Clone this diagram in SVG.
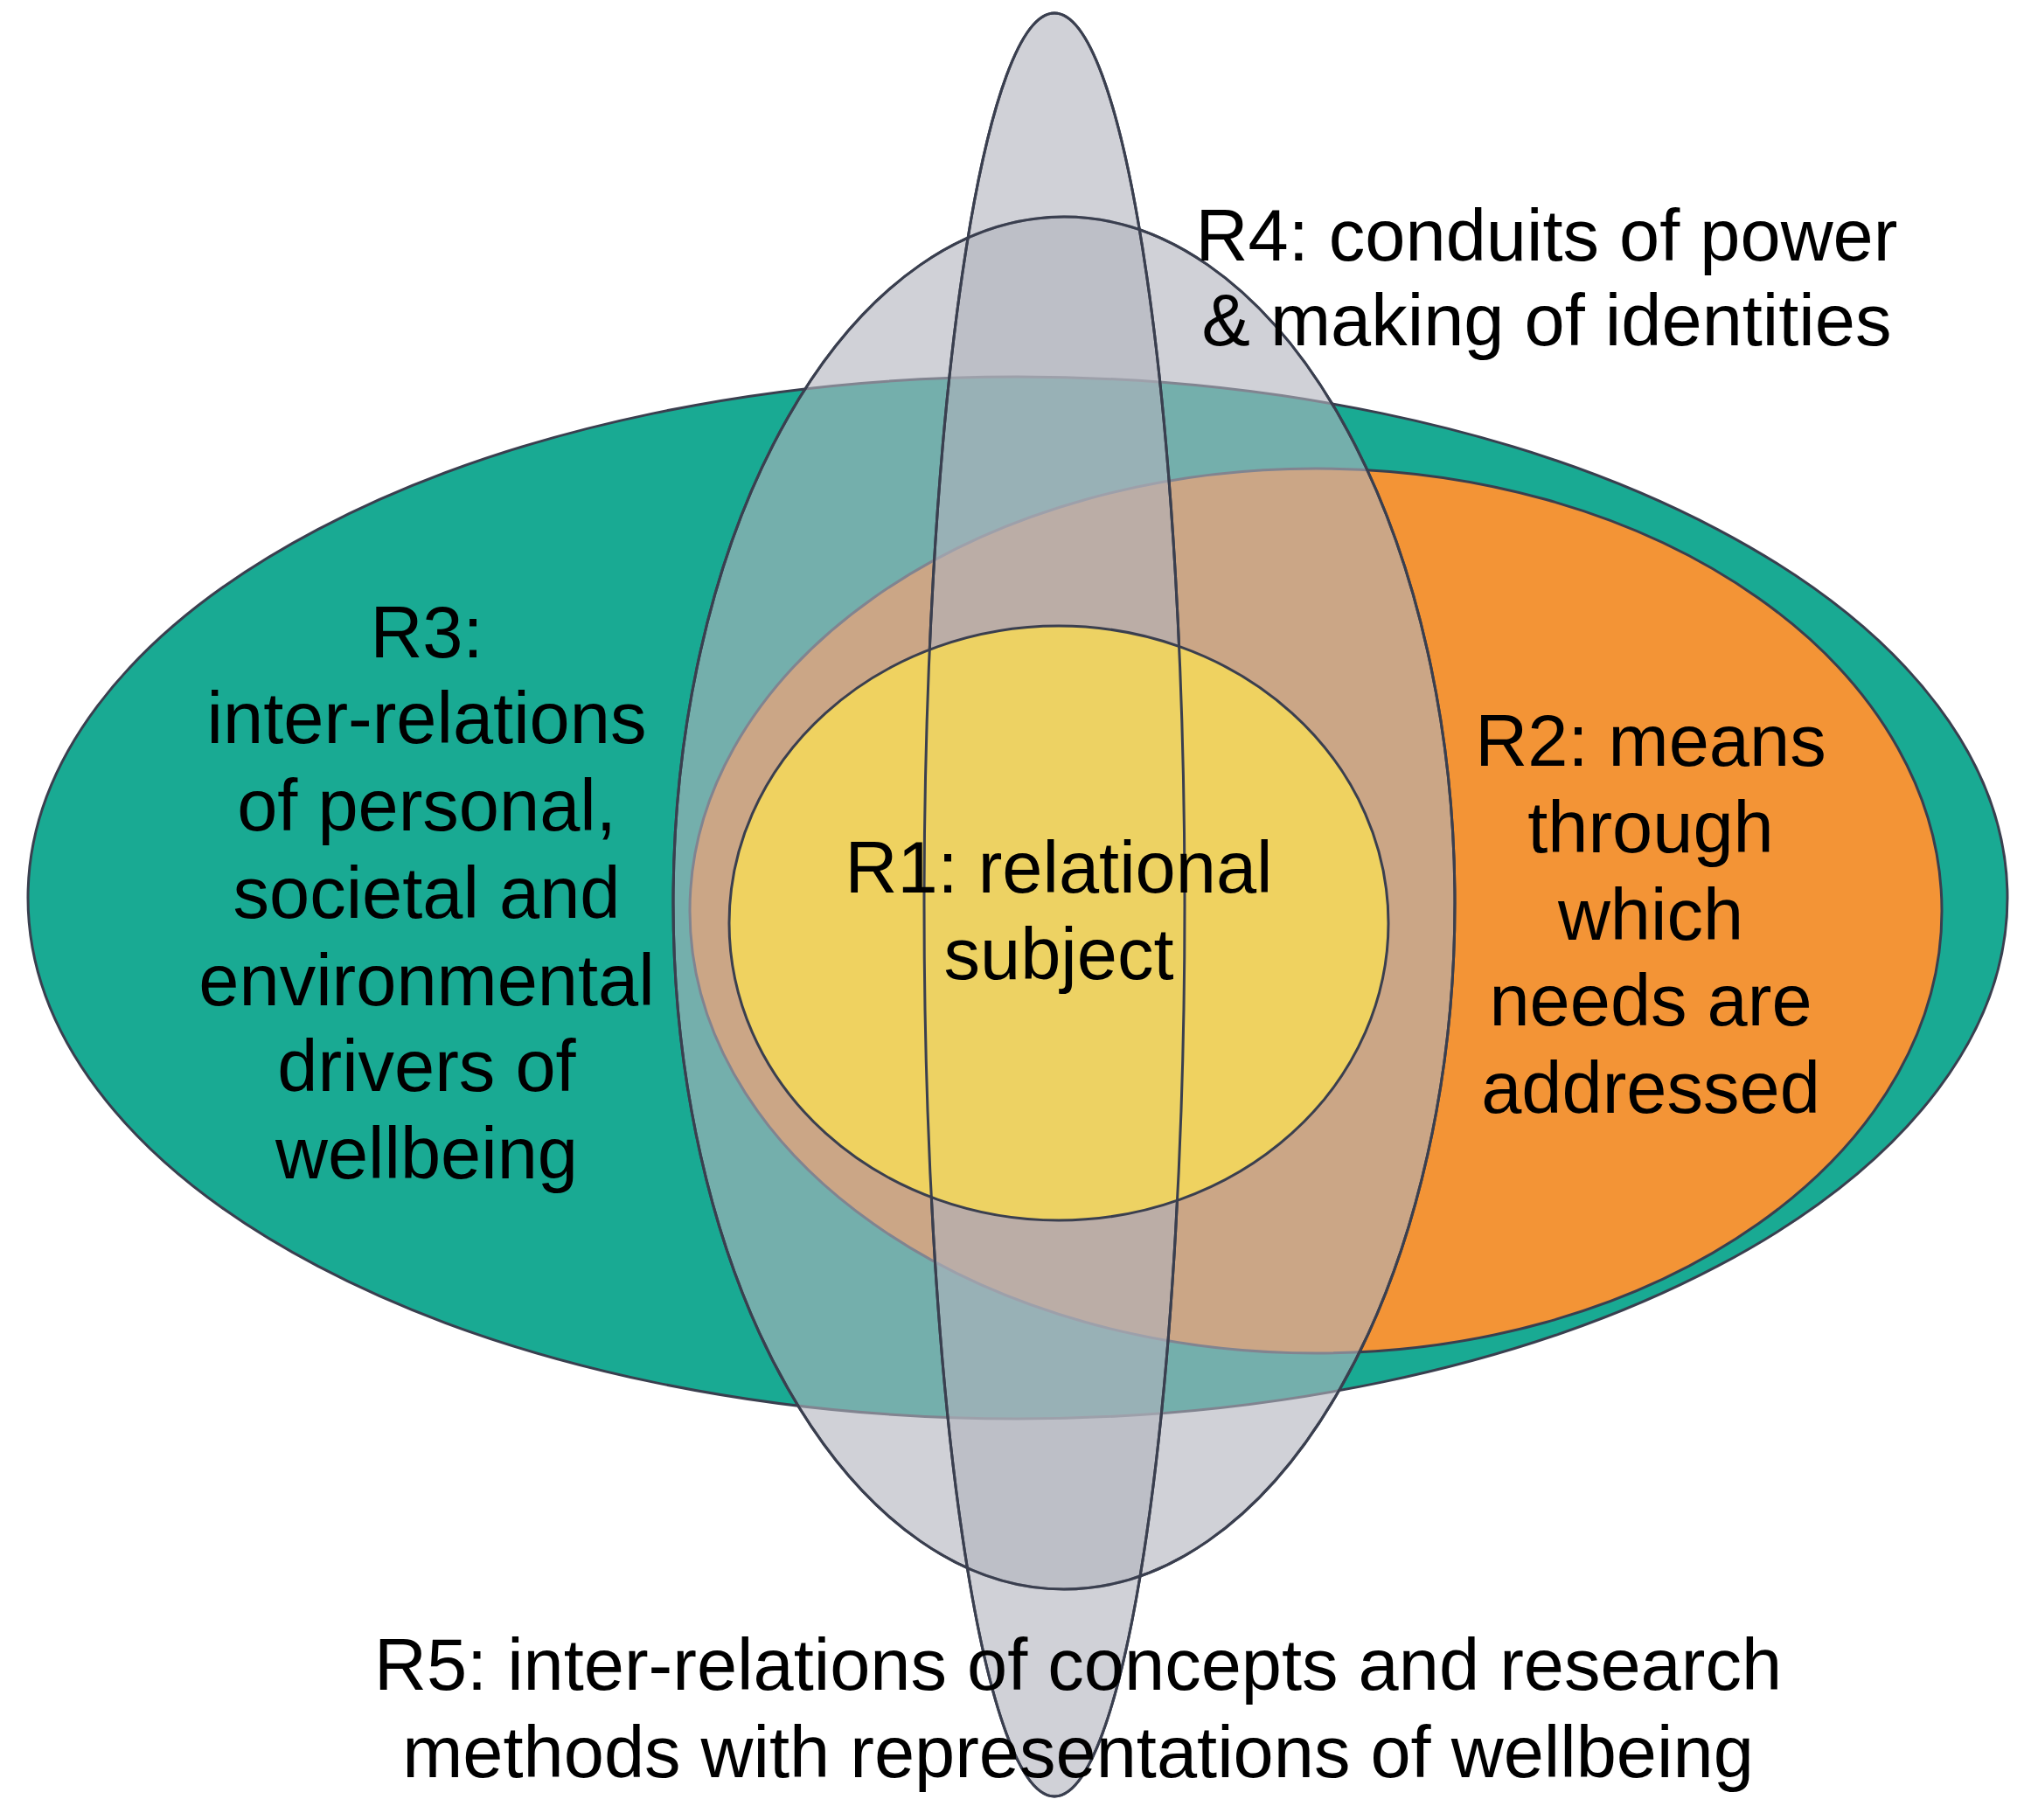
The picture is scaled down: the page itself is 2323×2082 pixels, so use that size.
<svg xmlns="http://www.w3.org/2000/svg" width="2323" height="2082" viewBox="0 0 2323 2082">
<style>
.e{stroke:#3a3f4f;stroke-width:3}
.g{fill:#b0b3bd;fill-opacity:0.6}
text{font-family:"Liberation Sans",Arial,sans-serif;font-size:83px;fill:#000;text-anchor:middle}
</style>
<rect width="2323" height="2082" fill="#fff"/>
<g id="r3"><ellipse class="e" cx="1164" cy="1027" rx="1132" ry="596" fill="#19aa93"/></g>
<g id="r2"><ellipse class="e" cx="1505" cy="1042" rx="716" ry="506" fill="#f39436"/></g>
<g id="r4"><ellipse class="e g" cx="1217" cy="1033" rx="447" ry="785"/></g>
<g id="r5"><ellipse class="e g" cx="1206" cy="1035" rx="149" ry="1020"/></g>
<g id="r1"><ellipse class="e" cx="1211" cy="1056" rx="377" ry="340" fill="#f1d55e" fill-opacity="0.93"/></g>
<g id="outlines" fill="none">
<ellipse class="e" cx="1217" cy="1033" rx="447" ry="785"/>
<ellipse class="e" cx="1206" cy="1035" rx="149" ry="1020"/>
</g>
<g id="labels">
<text x="1769" y="298">R4: conduits of power</text>
<text x="1769" y="395">&amp; making of identities</text>
<text x="488" y="752">R3:</text>
<text x="488" y="850">inter-relations</text>
<text x="488" y="950">of personal,</text>
<text x="488" y="1050">societal and</text>
<text x="488" y="1150">environmental</text>
<text x="488" y="1248">drivers of</text>
<text x="488" y="1348">wellbeing</text>
<text x="1888" y="876">R2: means</text>
<text x="1888" y="975">through</text>
<text x="1888" y="1075">which</text>
<text x="1888" y="1173">needs are</text>
<text x="1888" y="1273">addressed</text>
<text x="1211" y="1021">R1: relational</text>
<text x="1211" y="1120">subject</text>
<text x="1233" y="1933">R5: inter-relations of concepts and research</text>
<text x="1233" y="2033">methods with representations of wellbeing</text>
</g>
<g id="connectors"/>
</svg>
